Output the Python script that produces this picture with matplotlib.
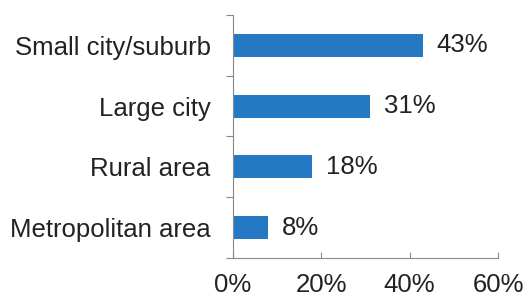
import numpy as np
import matplotlib.pyplot as plt

# data
categories = ['Small city/suburb', 'Large city', 'Rural area', 'Metropolitan area']
values = [43, 31, 18, 8]
xticks = [0, 20, 40, 60]

plt.rcParams['font.family'] = ['Liberation Sans', 'DejaVu Sans']
fs = 18.5

fig = plt.figure(figsize=(5.27, 2.99), dpi=100)
ax = fig.add_axes([0.442, 0.137, 0.503, 0.813])

pos = np.arange(len(categories))[::-1]
ax.barh(pos, values, height=0.38, color='#2479c2')

for p, v in zip(pos, values):
    ax.text(v + 3.1, p, f'{v}%', va='center', ha='left', fontsize=fs, color='#222222')

ax.set_xlim(0, 60)
ax.set_ylim(-0.5, len(categories) - 0.5)
ax.set_xticks(xticks)
ax.set_xticklabels([f'{t}%' for t in xticks], fontsize=fs, color='#222222')

# category boundaries as major ticks, labels on minor ticks
ax.set_yticks(np.arange(len(categories) + 1) - 0.5)
ax.set_yticklabels([])
ax.set_yticks(pos, minor=True)
ax.set_yticklabels(categories, minor=True, fontsize=fs, color='#222222')
ax.tick_params(axis='y', which='major', direction='out', length=5, color='#888888')
ax.tick_params(axis='y', which='minor', length=0, pad=16)
ax.tick_params(axis='x', direction='in', length=4, color='#888888', pad=11)

for s in ['top', 'right']:
    ax.spines[s].set_visible(False)
for s in ['left', 'bottom']:
    ax.spines[s].set_color('#888888')

fig.savefig('out.png', dpi=100)
